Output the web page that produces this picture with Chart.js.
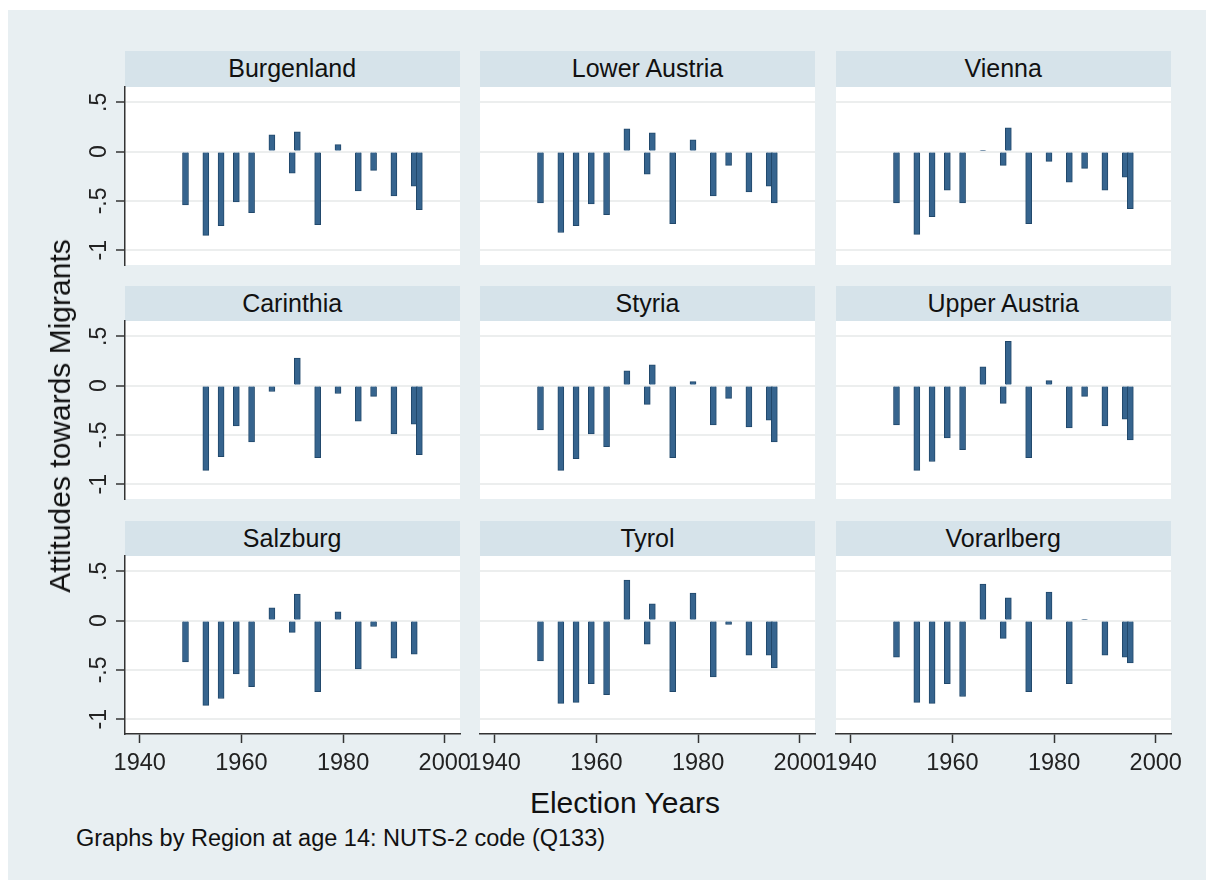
<!DOCTYPE html>
<html>
<head>
<meta charset="utf-8">
<script src="https://cdn.jsdelivr.net/npm/chart.js@4.4.1/dist/chart.umd.min.js"></script>
<style>
  body { margin: 0; width: 1206px; height: 880px; overflow: hidden; position: relative; background: #fff;
         font-family: "Liberation Sans", Arial, Helvetica, sans-serif; }
  #bg { position: absolute; left: 8px; top: 10px; right: 0; bottom: 0; background: #e8eff2; }
  .plot { position: absolute; background: #fff; }
  .strip { position: absolute; background: #d6e3ea; color: #111; font-size: 25px; text-align: center; }
  canvas { position: absolute; }
  .title { position: absolute; color: #111; white-space: nowrap; }
</style>
</head>
<body>
<div id="bg"></div>
<div id="stage"></div>
<div class="title" id="ytitle" style="font-size:30px; left:60px; top:416px; transform:translate(-50%,-50%) rotate(-90deg);">Attitudes towards Migrants</div>
<div class="title" style="font-size:30px; left:625px; top:803px; transform:translate(-50%,-50%);">Election Years</div>
<div class="title" style="font-size:23.5px; left:76px; top:838px; transform:translateY(-50%);">Graphs by Region at age 14: NUTS-2 code (Q133)</div>

<script>
// election years on the x axis
var years = [1949, 1953, 1956, 1959, 1962, 1966, 1970, 1971, 1975, 1979, 1983, 1986, 1990, 1994, 1995];

// panel names, in reading order
var regions = ["Burgenland", "Lower Austria", "Vienna",
               "Carinthia", "Styria", "Upper Austria",
               "Salzburg", "Tyrol", "Vorarlberg"];

// attitudes towards migrants, one value per election year (null = no bar)
var burgenland   = [-0.54, -0.85, -0.75, -0.51, -0.62, 0.17, -0.22, 0.20, -0.74, 0.07, -0.40, -0.19, -0.45, -0.35, -0.59];
var lowerAustria = [-0.52, -0.82, -0.75, -0.53, -0.64, 0.23, -0.23, 0.19, -0.73, 0.12, -0.45, -0.14, -0.41, -0.35, -0.52];
var vienna       = [-0.52, -0.84, -0.66, -0.39, -0.52, 0.01, -0.14, 0.24, -0.73, -0.10, -0.31, -0.17, -0.39, -0.26, -0.58];
var carinthia    = [null, -0.86, -0.72, -0.41, -0.57, -0.06, null, 0.28, -0.73, -0.08, -0.36, -0.11, -0.49, -0.39, -0.70];
var styria       = [-0.45, -0.86, -0.74, -0.49, -0.62, 0.15, -0.19, 0.21, -0.73, 0.04, -0.40, -0.13, -0.42, -0.35, -0.57];
var upperAustria = [-0.40, -0.86, -0.77, -0.53, -0.65, 0.19, -0.18, 0.45, -0.73, 0.05, -0.43, -0.11, -0.41, -0.34, -0.55];
var salzburg     = [-0.42, -0.86, -0.79, -0.54, -0.67, 0.13, -0.12, 0.27, -0.72, 0.09, -0.49, -0.06, -0.38, -0.34, null];
var tyrol        = [-0.41, -0.84, -0.83, -0.64, -0.75, 0.41, -0.24, 0.17, -0.72, 0.28, -0.57, -0.04, -0.35, -0.35, -0.48];
var vorarlberg   = [-0.37, -0.83, -0.84, -0.64, -0.77, 0.37, -0.18, 0.23, -0.72, 0.29, -0.64, 0.01, -0.35, -0.37, -0.43];

var seriesByRegion = [burgenland, lowerAustria, vienna, carinthia, styria, upperAustria, salzburg, tyrol, vorarlberg];

// axis ticks
var xTicks = [1940, 1960, 1980, 2000];
var yTicks = [-1, -0.5, 0, 0.5];
var yTickLabels = ["-1", "-.5", "0", ".5"];

var FONT = '"Liberation Sans", Arial, Helvetica, sans-serif';

// panel geometry
var plotLeft = [124.7, 480, 835.7];
var plotTop = [86.7, 321, 556];
var plotW = 335, plotH = 178, stripH = 35.5;
var padL = 60, padR = 35, padT = 10, padB = 45;

// rotated y tick labels (Stata style, reading bottom to top)
var rotatedYLabels = {
  id: 'rotatedYLabels',
  afterDraw: function(chart) {
    if (!chart.options.plugins.rotatedYLabels.show) return;
    var ctx = chart.ctx;
    var yScale = chart.scales.y;
    ctx.save();
    ctx.font = '23px ' + FONT;
    ctx.fillStyle = '#222';
    ctx.textAlign = 'center';
    ctx.textBaseline = 'alphabetic';
    yTicks.forEach(function(v, i) {
      var py = yScale.getPixelForValue(v);
      ctx.save();
      ctx.translate(chart.chartArea.left - 19.5, py);
      ctx.rotate(-Math.PI / 2);
      ctx.fillText(yTickLabels[i], 0, 0);
      ctx.restore();
    });
    ctx.restore();
  }
};

var stage = document.getElementById('stage');

regions.forEach(function(name, i) {
  var col = i % 3;
  var row = Math.floor(i / 3);
  var left = plotLeft[col], top = plotTop[row];
  var firstCol = col === 0, lastRow = row === 2;

  var plot = document.createElement('div');
  plot.className = 'plot';
  plot.style.left = left + 'px';
  plot.style.top = top + 'px';
  plot.style.width = plotW + 'px';
  plot.style.height = plotH + 'px';
  stage.appendChild(plot);

  var strip = document.createElement('div');
  strip.className = 'strip';
  strip.style.left = left + 'px';
  strip.style.top = (top - stripH) + 'px';
  strip.style.width = plotW + 'px';
  strip.style.height = stripH + 'px';
  strip.style.lineHeight = stripH + 'px';
  strip.textContent = name;
  stage.appendChild(strip);

  var canvas = document.createElement('canvas');
  var cw = plotW + padL + padR, ch = plotH + padT + padB;
  canvas.width = cw;
  canvas.height = ch;
  canvas.style.left = (left - padL) + 'px';
  canvas.style.top = (top - padT) + 'px';
  canvas.style.width = cw + 'px';
  canvas.style.height = ch + 'px';
  stage.appendChild(canvas);

  var points = [];
  seriesByRegion[i].forEach(function(v, k) {
    if (v !== null) points.push({ x: years[k], y: v });
  });

  new Chart(canvas, {
    type: 'bar',
    data: {
      datasets: [{
        data: points,
        backgroundColor: '#36648e',
        borderColor: '#21486b',
        borderWidth: 1,
        barThickness: 6
      }]
    },
    options: {
      responsive: false,
      animation: false,
      layout: { padding: { left: firstCol ? 0 : padL, right: padR, top: padT, bottom: lastRow ? 0 : padB } },
      plugins: {
        legend: { display: false },
        tooltip: { enabled: false },
        rotatedYLabels: { show: firstCol }
      },
      scales: {
        x: {
          type: 'linear',
          min: 1937.1,
          max: 2003,
          offset: false,
          display: lastRow,
          afterBuildTicks: function(scale) { scale.ticks = xTicks.map(function(v) { return { value: v }; }); },
          afterFit: function(scale) { scale.height = lastRow ? padB : 0; },
          border: { display: true, color: '#333', width: 1.5 },
          grid: { offset: false, drawOnChartArea: false, drawTicks: true, tickLength: 9, tickColor: '#333', tickWidth: 1.5 },
          ticks: {
            autoSkip: false, maxRotation: 0, padding: 6, color: '#222', font: { family: FONT, size: 23.5 },
            callback: function(value) { return String(value); }
          }
        },
        y: {
          type: 'linear',
          min: -1.15,
          max: 0.655,
          afterBuildTicks: function(scale) { scale.ticks = yTicks.map(function(v) { return { value: v }; }); },
          afterFit: function(scale) { scale.width = firstCol ? padL : 0; },
          border: { display: firstCol, color: '#333', width: 1.5 },
          grid: { color: '#eceeee', lineWidth: 2, drawTicks: firstCol, tickLength: 9, tickColor: '#333', tickWidth: 1.5 },
          ticks: { display: false }
        }
      }
    },
    plugins: [rotatedYLabels]
  });
});
</script>
</body>
</html>
